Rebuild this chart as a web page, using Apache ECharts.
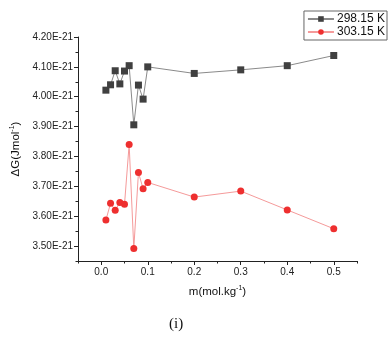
<!DOCTYPE html>
<html><head><meta charset="utf-8">
<script src="https://cdn.jsdelivr.net/npm/echarts@6/dist/echarts.min.js"></script>
<style>html,body{margin:0;padding:0;background:#fff}#c{width:389px;height:337px}</style>
</head><body><div id="c"></div>
<script>
// m (mol/kg)
const molality = [0.01,0.02,0.03,0.04,0.05,0.06,0.07,0.08,0.09,0.1,0.2,0.3,0.4,0.5];
// ΔG in units of 1E-21 J/mol
const dG_298 = [4.022,4.040,4.087,4.043,4.086,4.104,3.906,4.039,3.992,4.100,4.078,4.090,4.104,4.138];
const dG_303 = [3.587,3.643,3.620,3.646,3.640,3.840,3.492,3.746,3.692,3.713,3.664,3.684,3.621,3.558];
const seriesNames = ['298.15 K','303.15 K'];
const yMajor = [3.5,3.6,3.7,3.8,3.9,4.0,4.1,4.2];
const yMinor = [3.45,3.55,3.65,3.75,3.85,3.95,4.05,4.15];
const xMajor = [0,0.1,0.2,0.3,0.4,0.5];
const xMinor = [-0.05,0.05,0.15,0.25,0.35,0.45,0.55];

const font = 'Liberation Sans, Arial, sans-serif';
const chart = echarts.init(document.getElementById('c'));
const axisCommonX = {type:'value', min:-0.05, max:0.55, splitLine:{show:false}, position:'bottom'};
const axisCommonY = {type:'value', min:3.45, max:4.2, splitLine:{show:false}, position:'left'};
chart.setOption({
  animation:false,
  backgroundColor:'#fff',
  grid:{left:78, right:32, top:37, bottom:76},
  legend:{
    right:2, top:11, orient:'vertical', itemGap:1, itemWidth:26, itemHeight:7,
    padding:[2,2,2,3], borderColor:'#666', borderWidth:1, borderRadius:0,
    textStyle:{fontFamily:font, fontSize:12, color:'#111', padding:[0,0,0,-2]},
    data:seriesNames
  },
  xAxis:[
    Object.assign({}, axisCommonX, {
      name:'{a|m(mol.kg}{s|-1}{a|)}', nameLocation:'middle', nameGap:24,
      nameTextStyle:{rich:{a:{fontFamily:font,fontSize:11.5,color:'#111'},s:{fontFamily:font,fontSize:7,color:'#111',verticalAlign:'top',padding:[0,0,6,0]}}},
      axisLine:{show:true, onZero:false, lineStyle:{color:'#222', width:1}},
      axisTick:{show:true, customValues:xMajor, length:4, lineStyle:{color:'#222'}},
      axisLabel:{customValues:xMajor, fontFamily:font, fontSize:10, color:'#222', margin:6, formatter:v=>v.toFixed(1)}
    }),
    Object.assign({}, axisCommonX, {
      axisLine:{show:false, onZero:false},
      axisTick:{show:true, customValues:xMinor, length:2.5, lineStyle:{color:'#222'}},
      axisLabel:{show:false}
    })
  ],
  yAxis:[
    Object.assign({}, axisCommonY, {
      name:'{a|ΔG(Jmol}{s|-1}{a|)}', nameLocation:'middle', nameGap:50, nameRotate:90,
      nameTextStyle:{rich:{a:{fontFamily:font,fontSize:11.5,color:'#111'},s:{fontFamily:font,fontSize:7,color:'#111',verticalAlign:'top',padding:[0,0,6,0]}}},
      axisLine:{show:true, onZero:false, lineStyle:{color:'#222', width:1}},
      axisTick:{show:true, customValues:yMajor, length:4, lineStyle:{color:'#222'}},
      axisLabel:{customValues:yMajor, fontFamily:font, fontSize:10, color:'#222', margin:5, formatter:v=>v.toFixed(2)+'E-21'}
    }),
    Object.assign({}, axisCommonY, {
      axisLine:{show:false, onZero:false},
      axisTick:{show:true, customValues:yMinor, length:2.5, lineStyle:{color:'#222'}},
      axisLabel:{show:false}
    })
  ],
  series:[
    {name:seriesNames[0], type:'line', data:molality.map((m,i)=>[m,dG_298[i]]),
     symbol:'rect', symbolSize:7, itemStyle:{color:'#404040'}, lineStyle:{color:'#8a8a8a', width:1}},
    {name:seriesNames[1], type:'line', data:molality.map((m,i)=>[m,dG_303[i]]),
     symbol:'circle', symbolSize:7, itemStyle:{color:'#ee2f2f'}, lineStyle:{color:'#f59a9a', width:1}}
  ],
  graphic:[{type:'text', left:169, top:317, style:{text:'(i)', font:'15px "Liberation Serif", "DejaVu Serif", serif', fill:'#111'}}]
});
</script>
</body></html>
